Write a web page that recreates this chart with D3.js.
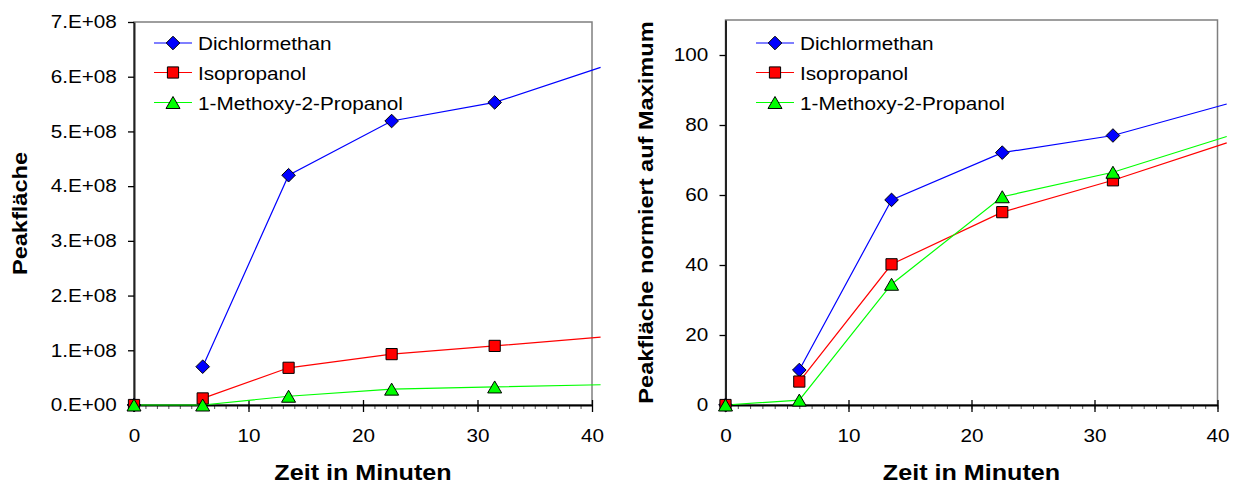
<!DOCTYPE html>
<html>
<head>
<meta charset="utf-8">
<script src="https://cdn.jsdelivr.net/npm/d3@7"></script>
<style>
  body { margin: 0; background: #fff; }
  text { font-family: "Liberation Sans", Arial, sans-serif; fill: #000; }
</style>
</head>
<body>
<div id="chart"></div>
<script>
let width = 1239;
let height = 485;

// sampling times in minutes; the last value is where the lines leave the picture
let times = [0, 6, 13.5, 22.5, 31.5, 40.75];

let seriesNames = ["Dichlormethan", "Isopropanol", "1-Methoxy-2-Propanol"];
let seriesColors = ["#0000ff", "#ff0000", "#00ff00"];
let seriesShapes = ["diamond", "square", "triangle"];
// blue and red have no segment between 0 and 6 min
let connectFirst = [false, false, true];

// left panel: raw peak areas
let leftDichlor = [0, 0.70e8, 4.20e8, 5.19e8, 5.53e8, 6.17e8];
let leftIso = [0, 0.12e8, 0.68e8, 0.93e8, 1.08e8, 1.24e8];
let leftMethoxy = [0, 0, 0.16e8, 0.29e8, 0.33e8, 0.37e8];

// right panel: normalised to maximum
let rightDichlor = [0, 10.0, 58.6, 72.1, 77.0, 86.0];
let rightIso = [0, 6.7, 40.2, 55.1, 64.2, 74.9];
let rightMethoxy = [0, 1.4, 34.5, 59.5, 66.5, 76.7];

let xTicks = [0, 10, 20, 30, 40];
let leftYTicks = [0, 1e8, 2e8, 3e8, 4e8, 5e8, 6e8, 7e8];
let leftYLabels = ["0.E+00", "1.E+08", "2.E+08", "3.E+08", "4.E+08", "5.E+08", "6.E+08", "7.E+08"];
let rightYTicks = [0, 20, 40, 60, 80, 100];
let rightYLabels = ["0", "20", "40", "60", "80", "100"];

let xTitle = "Zeit in Minuten";

let svg = d3.select("#chart").append("svg")
    .attr("width", width)
    .attr("height", height);

function markerPath(shape) {
    if (shape === "diamond") return "M0,-6.8L6.8,0L0,6.8L-6.8,0Z";
    if (shape === "square") return "M-5.6,-5.6H5.6V5.6H-5.6Z";
    return "M0,-6L7,6L-7,6Z";
}

function drawPanel(p) {
    let x = d3.scaleLinear().domain([0, 40]).range([p.left, p.right]);
    let y = d3.scaleLinear().domain([0, p.yMax]).range([p.bottom, p.top]);
    let g = svg.append("g");

    // plot frame
    g.append("rect")
        .attr("x", p.left)
        .attr("y", p.top)
        .attr("width", p.right - p.left)
        .attr("height", p.bottom - p.top)
        .attr("fill", "none")
        .attr("stroke", "#7f7f7f")
        .attr("stroke-width", 1.5);

    // minor ticks every minute
    let minor = g.append("g")
        .attr("transform", "translate(0," + p.bottom + ")")
        .call(d3.axisBottom(x).tickValues(d3.range(0, 41)).tickSize(4).tickFormat(""));
    minor.select(".domain").remove();
    minor.selectAll("line").attr("stroke", "#555").attr("stroke-width", 1);

    let xAxis = g.append("g")
        .attr("transform", "translate(0," + p.bottom + ")")
        .call(d3.axisBottom(x).tickValues(xTicks).tickSize(7).tickSizeOuter(0).tickPadding(17));
    xAxis.select(".domain").attr("stroke", "#000").attr("stroke-width", 2);
    xAxis.selectAll(".tick line").attr("y1", -5).attr("stroke", "#000").attr("stroke-width", 1.3);
    xAxis.selectAll(".tick text")
        .attr("font-size", 18)
        .attr("font-family", null)
        .attr("transform", "scale(1.15,1)");

    let yAxis = g.append("g")
        .attr("transform", "translate(" + p.left + ",0)")
        .call(d3.axisLeft(y).tickValues(p.yTicks).tickFormat((d, i) => p.yLabels[i])
            .tickSize(6).tickSizeOuter(0).tickPadding(9));
    yAxis.select(".domain").attr("stroke", "#222").attr("stroke-width", 2);
    yAxis.selectAll(".tick line").attr("stroke", "#000").attr("stroke-width", 1.3);
    yAxis.selectAll(".tick text")
        .attr("font-size", 18)
        .attr("font-family", null)
        .attr("transform", "scale(1.15,1)");

    // axis titles
    g.append("text")
        .attr("transform", "translate(" + ((p.left + p.right) / 2) + ",480) scale(1.17,1)")
        .attr("text-anchor", "middle")
        .attr("font-size", 21.5)
        .attr("font-weight", "bold")
        .text(xTitle);

    g.append("text")
        .attr("transform", "translate(" + p.titleX + "," + ((p.top + p.bottom) / 2) + ") rotate(-90) scale(1.15,1)")
        .attr("text-anchor", "middle")
        .attr("font-size", 20.5)
        .attr("font-weight", "bold")
        .text(p.yTitle);

    let line = d3.line()
        .x(d => x(d.t))
        .y(d => y(d.v));

    let series = p.values.map((vals, i) => times.map((t, j) => ({t: t, v: vals[j]})));

    series.forEach((pts, i) => {
        g.append("path")
            .datum(connectFirst[i] ? pts : pts.slice(1))
            .attr("d", line)
            .attr("fill", "none")
            .attr("stroke", seriesColors[i])
            .attr("stroke-width", 1.2);
    });

    series.forEach((pts, i) => {
        g.selectAll(null)
            .data(pts.filter(d => d.t <= 40))
            .join("path")
            .attr("transform", d => "translate(" + x(d.t) + "," + y(d.v) + ")")
            .attr("d", markerPath(seriesShapes[i]))
            .attr("fill", seriesColors[i])
            .attr("stroke", "#000")
            .attr("stroke-width", 1);
    });

    // legend
    let rows = [43, 72.5, 102.5];
    seriesNames.forEach((name, i) => {
        let lg = g.append("g").attr("transform", "translate(" + p.legendX + "," + rows[i] + ")");
        lg.append("line")
            .attr("x1", 0).attr("x2", 38)
            .attr("stroke", seriesColors[i])
            .attr("stroke-width", 1.2);
        lg.append("path")
            .attr("transform", "translate(19,0)")
            .attr("d", markerPath(seriesShapes[i]))
            .attr("fill", seriesColors[i])
            .attr("stroke", "#000")
            .attr("stroke-width", 1);
        lg.append("text")
            .attr("transform", "translate(44,7) scale(1.12,1)")
            .attr("font-size", 18.5)
            .text(name);
    });
}

drawPanel({
    left: 134, right: 592, top: 22, bottom: 405,
    yMax: 7e8, yTicks: leftYTicks, yLabels: leftYLabels,
    yTitle: "Peakfläche", titleX: 27, legendX: 154,
    values: [leftDichlor, leftIso, leftMethoxy]
});

drawPanel({
    left: 725.5, right: 1217.5, top: 20, bottom: 405,
    yMax: 110, yTicks: rightYTicks, yLabels: rightYLabels,
    yTitle: "Peakfläche normiert auf Maximum", titleX: 653, legendX: 756,
    values: [rightDichlor, rightIso, rightMethoxy]
});
</script>
</body>
</html>
